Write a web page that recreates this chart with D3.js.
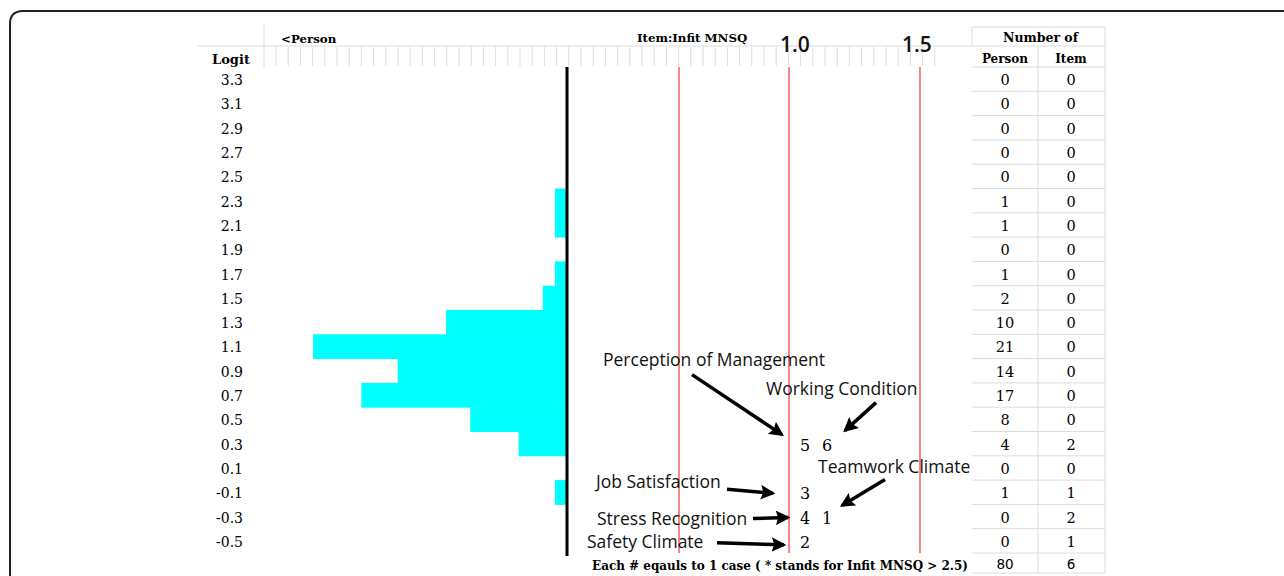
<!DOCTYPE html>
<html>
<head>
<meta charset="utf-8">
<script src="https://cdn.jsdelivr.net/npm/d3@7"></script>
<style>
  body { margin: 0; background: #fff; }
  svg { display: block; }
</style>
</head>
<body>
<div id="chart"></div>
<script>
// rows of the Wright map (logit), persons and items per row
const logits = ["3.3","3.1","2.9","2.7","2.5","2.3","2.1","1.9","1.7","1.5","1.3","1.1","0.9","0.7","0.5","0.3","0.1","-0.1","-0.3","-0.5"];
const personCounts = [0,0,0,0,0,1,1,0,1,2,10,21,14,17,8,4,0,1,0,0];
const itemCounts = [0,0,0,0,0,0,0,0,0,0,0,0,0,0,0,2,0,1,2,1];
const totals = {person: 80, item: 6};

// items placed on the map
const itemRows = [
  {logit: "0.3", items: [5, 6]},
  {logit: "-0.1", items: [3]},
  {logit: "-0.3", items: [4, 1]},
  {logit: "-0.5", items: [2]}
];

// infit MNSQ reference lines and labels
const mnsqLines = [0.6, 1.0, 1.5];
const mnsqLabels = [1.0, 1.5];

// annotation labels pointing to item numbers
const notes = [
  {item: 5, text: "Perception of Management", lx: -202, ly: -85, from: [-113, -69], to: [-23, -9]},
  {item: 6, text: "Working Condition", lx: -61, ly: -56, from: [49, -41], to: [18, -13]},
  {item: 1, text: "Teamwork Climate", lx: -9, ly: -51, from: [58, -37], to: [15, -11]},
  {item: 3, text: "Job Satisfaction", lx: -209, ly: -11, from: [-78, -3], to: [-32, 1]},
  {item: 4, text: "Stress Recognition", lx: -208, ly: 1, from: [-52, 2], to: [-17, 1]},
  {item: 2, text: "Safety Climate", lx: -218, ly: 0, from: [-88, 2], to: [-21, 4]}
];

const W = 1284, H = 576;
const serif = "'DejaVu Serif', 'Liberation Serif', serif";
const sans = "'Open Sans', 'Noto Sans', sans-serif";
const grid = "#dcdcdc";

const svg = d3.select("#chart").append("svg")
  .attr("width", W).attr("height", H);

// outer frame
svg.append("path")
  .attr("d", `M10,${H + 5} L10,24 Q10,11 23,11 L${W + 5},11`)
  .attr("fill", "none").attr("stroke", "#222").attr("stroke-width", 2);

const y = d3.scaleBand().domain(logits).range([67, 553]);
const rowY = d => y(d) + y.bandwidth() / 2;
const axisX = 567;
const xPerson = d3.scaleLinear().domain([0, 21]).range([axisX, 313]);
const xMnsq = d3.scaleLinear().domain(mnsqLines).range([679, 789, 920]);
const xSlot = d3.scaleLinear().domain([0, 1]).range([805, 827]);
const colPerson = 1005, colItem = 1071;
const tableL = 972, tableM = 1038, tableR = 1105;

// header ruler
svg.append("line").attr("x1", 197).attr("x2", tableR).attr("y1", 46).attr("y2", 46)
  .attr("stroke", grid);
svg.append("line").attr("x1", 264).attr("x2", 264).attr("y1", 24).attr("y2", 67)
  .attr("stroke", grid);
const rulerTicks = d3.range(276, 936, 12.2);
svg.selectAll(".tick").data(rulerTicks).join("line")
  .attr("x1", d => d).attr("x2", d => d)
  .attr("y1", 47).attr("y2", 66)
  .attr("stroke", grid);

svg.append("text").attr("x", 281).attr("y", 43)
  .attr("font-family", serif).attr("font-weight", "bold").attr("font-size", 11.8)
  .text("<Person");
svg.append("text").attr("x", 231).attr("y", 64).attr("text-anchor", "middle")
  .attr("font-family", serif).attr("font-weight", "bold").attr("font-size", 13)
  .text("Logit");
svg.append("text").attr("x", 637).attr("y", 42)
  .attr("font-family", serif).attr("font-weight", "bold").attr("font-size", 11.8)
  .text("Item:Infit MNSQ");
svg.selectAll(".mlab").data(mnsqLabels).join("text")
  .attr("x", (d, i) => xMnsq(d) + (i === 0 ? 6 : -3)).attr("y", 52)
  .attr("text-anchor", "middle")
  .attr("font-family", sans).attr("font-weight", 600).attr("font-size", 21).attr("fill", "#111")
  .text(d => d.toFixed(1));

// table frame
svg.append("line").attr("x1", tableL).attr("x2", tableL).attr("y1", 27).attr("y2", 46).attr("stroke", grid);
svg.append("line").attr("x1", tableL).attr("x2", tableR).attr("y1", 27).attr("y2", 27).attr("stroke", grid);
svg.append("line").attr("x1", tableR).attr("x2", tableR).attr("y1", 27).attr("y2", 573).attr("stroke", grid);
svg.append("line").attr("x1", tableM).attr("x2", tableM).attr("y1", 46).attr("y2", 573).attr("stroke", grid);
const hLines = [67].concat(logits.map(d => y(d) + y.bandwidth()), [573]);
svg.selectAll(".hl").data(hLines).join("line")
  .attr("x1", tableL).attr("x2", tableR)
  .attr("y1", d => d).attr("y2", d => d)
  .attr("stroke", grid);
svg.append("text").attr("x", (tableL + tableR) / 2 + 2).attr("y", 42).attr("text-anchor", "middle")
  .attr("font-family", serif).attr("font-weight", "bold").attr("font-size", 12.5)
  .text("Number of");
svg.append("text").attr("x", colPerson).attr("y", 63).attr("text-anchor", "middle")
  .attr("font-family", serif).attr("font-weight", "bold").attr("font-size", 12)
  .text("Person");
svg.append("text").attr("x", colItem).attr("y", 63).attr("text-anchor", "middle")
  .attr("font-family", serif).attr("font-weight", "bold").attr("font-size", 12)
  .text("Item");

// logit labels
svg.selectAll(".lg").data(logits).join("text")
  .attr("x", 243).attr("y", d => rowY(d) + 6)
  .attr("text-anchor", "end")
  .attr("font-family", serif).attr("font-size", 14)
  .text(d => d);

// person histogram
svg.selectAll(".bar").data(logits).join("rect")
  .attr("x", (d, i) => xPerson(personCounts[i]))
  .attr("y", d => y(d))
  .attr("width", (d, i) => axisX - xPerson(personCounts[i]))
  .attr("height", y.bandwidth() + 0.5)
  .attr("fill", "#00ffff");

svg.append("line").attr("x1", axisX).attr("x2", axisX).attr("y1", 67).attr("y2", 556)
  .attr("stroke", "#000").attr("stroke-width", 3);

// MNSQ lines
svg.selectAll(".ml").data(mnsqLines).join("line")
  .attr("x1", d => xMnsq(d)).attr("x2", d => xMnsq(d))
  .attr("y1", 67).attr("y2", 553)
  .attr("stroke", "#f04848").attr("stroke-width", 1.3);

// table values
svg.selectAll(".pc").data(logits).join("text")
  .attr("x", colPerson).attr("y", d => rowY(d) + 6).attr("text-anchor", "middle")
  .attr("font-family", serif).attr("font-size", 14.5)
  .text((d, i) => personCounts[i]);
svg.selectAll(".ic").data(logits).join("text")
  .attr("x", colItem).attr("y", d => rowY(d) + 6).attr("text-anchor", "middle")
  .attr("font-family", serif).attr("font-size", 14.5)
  .text((d, i) => itemCounts[i]);
svg.append("text").attr("x", colPerson).attr("y", 569).attr("text-anchor", "middle")
  .attr("font-family", "'DejaVu Sans', sans-serif").attr("font-size", 13.5)
  .text(totals.person);
svg.append("text").attr("x", colItem).attr("y", 569).attr("text-anchor", "middle")
  .attr("font-family", "'DejaVu Sans', sans-serif").attr("font-size", 13.5)
  .text(totals.item);

svg.append("text").attr("x", 592).attr("y", 570)
  .attr("font-family", serif).attr("font-weight", "bold").attr("font-size", 12.5)
  .attr("textLength", 376).attr("lengthAdjust", "spacingAndGlyphs")
  .text("Each # eqauls to 1 case ( * stands for Infit MNSQ > 2.5)");

// items
const itemPos = {};
itemRows.forEach(r => r.items.forEach((it, j) => {
  itemPos[it] = [xSlot(j), rowY(r.logit)];
}));
svg.selectAll(".item").data(Object.entries(itemPos)).join("text")
  .attr("x", d => d[1][0]).attr("y", d => d[1][1] + 7)
  .attr("text-anchor", "middle")
  .attr("font-family", serif).attr("font-size", 16)
  .text(d => d[0]);

// annotations
svg.append("defs").append("marker")
  .attr("id", "ah").attr("viewBox", "0 0 12 12")
  .attr("refX", 10).attr("refY", 6)
  .attr("markerWidth", 4.2).attr("markerHeight", 4.2)
  .attr("markerUnits", "strokeWidth")
  .attr("orient", "auto")
  .append("path").attr("d", "M0,0 L12,6 L0,12 L2,6 Z").attr("fill", "#000");

const ng = svg.selectAll(".note").data(notes).join("g");
ng.append("text")
  .attr("x", d => itemPos[d.item][0] + d.lx)
  .attr("y", d => itemPos[d.item][1] + d.ly + 7)
  .attr("font-family", sans).attr("font-size", 17.5).attr("fill", "#111")
  .text(d => d.text);
ng.append("line")
  .attr("x1", d => itemPos[d.item][0] + d.from[0])
  .attr("y1", d => itemPos[d.item][1] + d.from[1])
  .attr("x2", d => itemPos[d.item][0] + d.to[0])
  .attr("y2", d => itemPos[d.item][1] + d.to[1])
  .attr("stroke", "#000").attr("stroke-width", 3.5)
  .attr("marker-end", "url(#ah)");
</script>
</body>
</html>
